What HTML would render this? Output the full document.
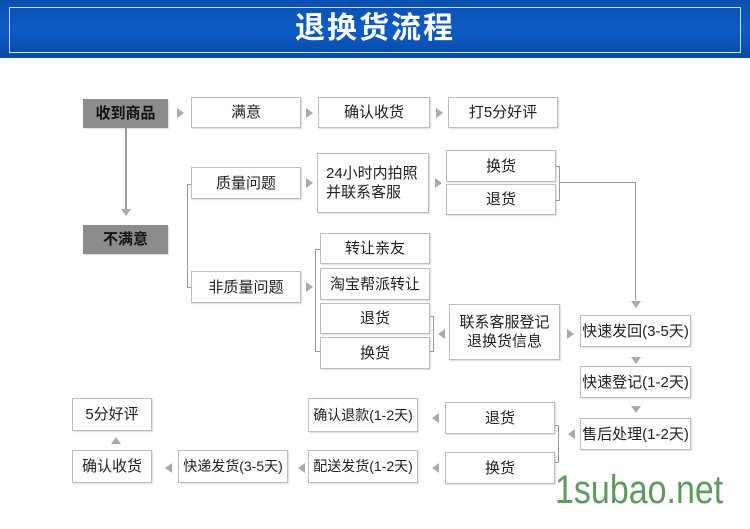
<!DOCTYPE html>
<html><head><meta charset="utf-8"><style>
body{margin:0;width:750px;height:529px;background:#fff;position:relative;overflow:hidden;font-family:"Liberation Sans","Noto Sans CJK SC",sans-serif;}
.hd{position:absolute;left:0;top:0;width:750px;height:58px;background:linear-gradient(#0a4fb0,#0d5cc4 50%,#0a4aa8);}
.hd .in{position:absolute;left:9px;top:7px;width:730px;height:44px;border:1px solid #cfe0ff;}
.hd .t{position:absolute;left:0;width:750px;top:8px;text-align:center;color:#fff;font-size:30px;font-weight:bold;letter-spacing:2px;line-height:42px;}
.b{position:absolute;box-sizing:border-box;border:1px solid #bdbdbd;box-shadow:1px 1px 1px #ddd;background:#fff;display:flex;align-items:center;justify-content:center;text-align:center;font-size:15px;color:#222;line-height:19px;}
.g{background:#8c8c8c;border-color:#8c8c8c;color:#111;font-weight:bold;}
.l{position:absolute;background:#999;}
.a{position:absolute;width:0;height:0;}
.r{border-top:5px solid transparent;border-bottom:5px solid transparent;border-left:7px solid #aaa;}
.lf{border-top:5px solid transparent;border-bottom:5px solid transparent;border-right:7px solid #aaa;}
.d{border-left:5px solid transparent;border-right:5px solid transparent;border-top:7px solid #aaa;}
.u{border-left:5px solid transparent;border-right:5px solid transparent;border-bottom:7px solid #aaa;}
.wm{position:absolute;left:555px;top:470px;font-size:40px;line-height:40px;color:#5e9a5e;font-family:"Liberation Sans",sans-serif;transform:scaleX(0.85);transform-origin:left top;white-space:nowrap;}
</style></head><body>
<div class="hd"><div class="in"></div><div class="t">退换货流程</div></div>

<div class="b g" style="left:83px;top:99px;width:85px;height:29px">收到商品</div>
<div class="a r" style="left:177px;top:108px"></div>
<div class="b" style="left:191px;top:97px;width:110px;height:31px">满意</div>
<div class="a r" style="left:306px;top:108px"></div>
<div class="b" style="left:318px;top:97px;width:112px;height:31px">确认收货</div>
<div class="a r" style="left:436px;top:108px"></div>
<div class="b" style="left:448px;top:97px;width:110px;height:31px">打5分好评</div>

<div class="l" style="left:125px;top:128px;width:2px;height:82px"></div>
<div class="a d" style="left:121px;top:209px"></div>
<div class="b g" style="left:83px;top:225px;width:85px;height:29px">不满意</div>

<div class="l" style="left:187px;top:184px;width:1px;height:104px"></div>
<div class="l" style="left:187px;top:184px;width:5px;height:1px"></div>
<div class="l" style="left:187px;top:287px;width:5px;height:1px"></div>
<div class="b" style="left:191px;top:167px;width:110px;height:32px">质量问题</div>
<div class="b" style="left:191px;top:271px;width:110px;height:32px">非质量问题</div>
<div class="a r" style="left:306px;top:178px"></div>
<div class="a r" style="left:306px;top:282px"></div>

<div class="b" style="left:317px;top:153px;width:112px;height:60px;justify-content:flex-start;padding-left:8px;text-align:left">24小时内拍照<br>并联系客服</div>
<div class="a r" style="left:435px;top:178px"></div>
<div class="b" style="left:446px;top:150px;width:110px;height:32px">换货</div>
<div class="b" style="left:446px;top:184px;width:110px;height:31px">退货</div>
<div class="l" style="left:556px;top:166px;width:4px;height:1px"></div>
<div class="l" style="left:559px;top:166px;width:1px;height:35px"></div>
<div class="l" style="left:556px;top:200px;width:4px;height:1px"></div>
<div class="l" style="left:560px;top:182px;width:75px;height:1px"></div>
<div class="l" style="left:635px;top:182px;width:1px;height:118px"></div>
<div class="a d" style="left:631px;top:301px"></div>

<div class="l" style="left:315px;top:249px;width:1px;height:103px"></div>
<div class="l" style="left:315px;top:249px;width:5px;height:1px"></div>
<div class="l" style="left:315px;top:351px;width:5px;height:1px"></div>
<div class="b" style="left:320px;top:233px;width:110px;height:31px">转让亲友</div>
<div class="b" style="left:320px;top:268px;width:110px;height:32px">淘宝帮派转让</div>
<div class="b" style="left:320px;top:303px;width:110px;height:31px">退货</div>
<div class="b" style="left:320px;top:337px;width:110px;height:32px">换货</div>
<div class="l" style="left:430px;top:316px;width:4px;height:1px"></div>
<div class="l" style="left:433px;top:316px;width:1px;height:36px"></div>
<div class="l" style="left:430px;top:351px;width:4px;height:1px"></div>
<div class="a lf" style="left:438px;top:329px"></div>
<div class="b" style="left:449px;top:304px;width:111px;height:56px">联系客服登记<br>退换货信息</div>
<div class="a r" style="left:567px;top:329px"></div>

<div class="b" style="left:580px;top:315px;width:111px;height:32px">快速发回(3-5天)</div>
<div class="a d" style="left:631px;top:357px"></div>
<div class="b" style="left:580px;top:366px;width:111px;height:32px">快速登记(1-2天)</div>
<div class="a d" style="left:631px;top:406px"></div>
<div class="b" style="left:580px;top:418px;width:111px;height:32px">售后处理(1-2天)</div>
<div class="a lf" style="left:568px;top:429px"></div>

<div class="b" style="left:445px;top:402px;width:110px;height:32px">退货</div>
<div class="b" style="left:445px;top:452px;width:110px;height:32px">换货</div>
<div class="l" style="left:555px;top:425px;width:4px;height:1px"></div>
<div class="l" style="left:558px;top:425px;width:1px;height:38px"></div>
<div class="l" style="left:555px;top:462px;width:4px;height:1px"></div>

<div class="a lf" style="left:432px;top:413px"></div>
<div class="b" style="left:308px;top:398px;width:110px;height:34px;font-size:14px">确认退款(1-2天)</div>
<div class="a lf" style="left:432px;top:463px"></div>
<div class="b" style="left:308px;top:450px;width:110px;height:33px;font-size:14px">配送发货(1-2天)</div>
<div class="a lf" style="left:298px;top:463px"></div>
<div class="b" style="left:178px;top:450px;width:110px;height:33px;font-size:14px">快递发货(3-5天)</div>
<div class="a lf" style="left:165px;top:463px"></div>
<div class="b" style="left:72px;top:450px;width:80px;height:33px">确认收货</div>
<div class="a u" style="left:111px;top:437px"></div>
<div class="b" style="left:72px;top:398px;width:80px;height:33px">5分好评</div>

<div class="wm">1subao.net</div>
</body></html>
